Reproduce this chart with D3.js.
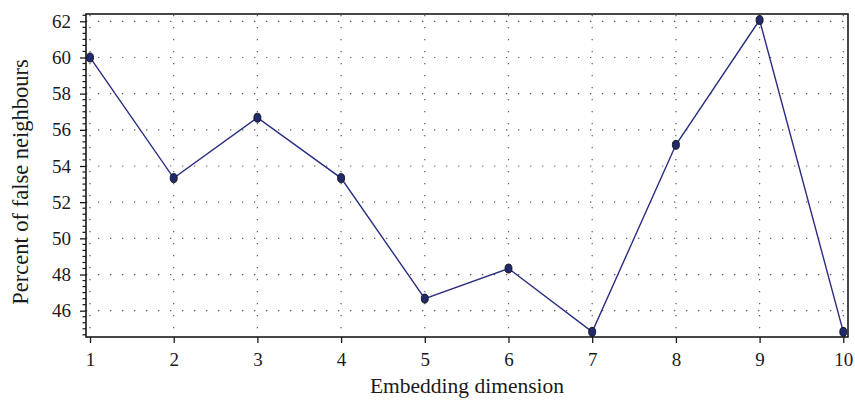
<!DOCTYPE html>
<html>
<head>
<meta charset="utf-8">
<script src="https://cdn.jsdelivr.net/npm/d3@7"></script>
<style>
  html, body { margin: 0; padding: 0; background: #ffffff; }
  svg { display: block; }
  text { font-family: "Liberation Serif", "DejaVu Serif", serif; fill: #1a1a1a; }
</style>
</head>
<body>
<svg id="chart" width="855" height="400"></svg>
<script>
// ---- data ----
const dimensions = [1, 2, 3, 4, 5, 6, 7, 8, 9, 10];
const falseNeighbours = [60.0, 53.33, 56.67, 53.33, 46.67, 48.33, 44.83, 55.17, 62.07, 44.83];
const xTickValues = [1, 2, 3, 4, 5, 6, 7, 8, 9, 10];
const yTickValues = [46, 48, 50, 52, 54, 56, 58, 60, 62];
const xTitle = "Embedding dimension";
const yTitle = "Percent of false neighbours";

// ---- layout ----
const box = { left: 86, right: 848, top: 14, bottom: 337 };
const svg = d3.select("#chart");

const x = d3.scaleLinear().domain([1, 10]).range([90, 843.3]);
const y = d3.scaleLinear().domain([46, 62]).range([310.7, 21.3]);

// grid (dotted)
const grid = svg.append("g");
grid.selectAll("line.h").data(yTickValues).enter().append("line")
  .attr("x1", box.left).attr("x2", box.right)
  .attr("y1", d => y(d)).attr("y2", d => y(d))
  .attr("stroke", "#5a5a5a").attr("stroke-width", 1.2)
  .attr("stroke-dasharray", "1.3 10.7");
grid.selectAll("line.v").data(xTickValues).enter().append("line")
  .attr("x1", d => x(d)).attr("x2", d => x(d))
  .attr("y1", box.top + 1).attr("y2", box.bottom)
  .attr("stroke", "#5a5a5a").attr("stroke-width", 1.2)
  .attr("stroke-dasharray", "1.3 10.7");

// frame
svg.append("rect")
  .attr("x", box.left).attr("y", box.top)
  .attr("width", box.right - box.left).attr("height", box.bottom - box.top)
  .attr("fill", "none").attr("stroke", "#1a1a1a").attr("stroke-width", 1.6);

// y axis
const yAxis = d3.axisLeft(y).tickValues(yTickValues).tickSize(6).tickPadding(9).tickFormat(d3.format("d"));
const gy = svg.append("g").attr("transform", `translate(${box.left},0)`).call(yAxis);
gy.select(".domain").remove();
gy.selectAll(".tick line").attr("stroke", "#1a1a1a").attr("stroke-width", 1.3);
gy.selectAll(".tick text").style("font-size", "19px").style("font-family", "Liberation Serif, serif").attr("fill", "#1a1a1a");

// y minor ticks
const yMin = y.invert(box.bottom), yMax = y.invert(box.top);
const minor = d3.range(-6, 60).map(i => 46 + i / 3)
  .filter((v, idx) => ((idx - 6) % 6 + 6) % 6 !== 0 && v > yMin && v < yMax);
svg.append("g").selectAll("line").data(minor).enter().append("line")
  .attr("x1", box.left - 3.5).attr("x2", box.left)
  .attr("y1", d => y(d)).attr("y2", d => y(d))
  .attr("stroke", "#1a1a1a").attr("stroke-width", 1.2);

// x axis
const xAxis = d3.axisBottom(x).tickValues(xTickValues).tickSize(6).tickPadding(10).tickFormat(d3.format("d"));
const gx = svg.append("g").attr("transform", `translate(0,${box.bottom})`).call(xAxis);
gx.select(".domain").remove();
gx.selectAll(".tick line").attr("stroke", "#1a1a1a").attr("stroke-width", 1.3);
gx.selectAll(".tick text").style("font-size", "19px").style("font-family", "Liberation Serif, serif").attr("fill", "#1a1a1a");

// titles
svg.append("text")
  .attr("x", (box.left + box.right) / 2).attr("y", 393)
  .attr("text-anchor", "middle").style("font-size", "21.5px")
  .text(xTitle);
svg.append("text")
  .attr("transform", `translate(28,182) rotate(-90)`)
  .attr("text-anchor", "middle").style("font-size", "22.5px")
  .text(yTitle);

// line
const pts = dimensions.map((d, i) => [d, falseNeighbours[i]]);
svg.append("path")
  .datum(pts)
  .attr("fill", "none").attr("stroke", "#2b2e80").attr("stroke-width", 1.4)
  .attr("d", d3.line().x(d => x(d[0])).y(d => y(d[1])));

// markers
svg.append("g").selectAll("ellipse").data(pts).enter().append("ellipse")
  .attr("cx", d => x(d[0])).attr("cy", d => y(d[1]))
  .attr("rx", 3.5).attr("ry", 4.5)
  .attr("fill", "#222a6e").attr("stroke", "#111").attr("stroke-width", 0.9);
</script>
</body>
</html>
